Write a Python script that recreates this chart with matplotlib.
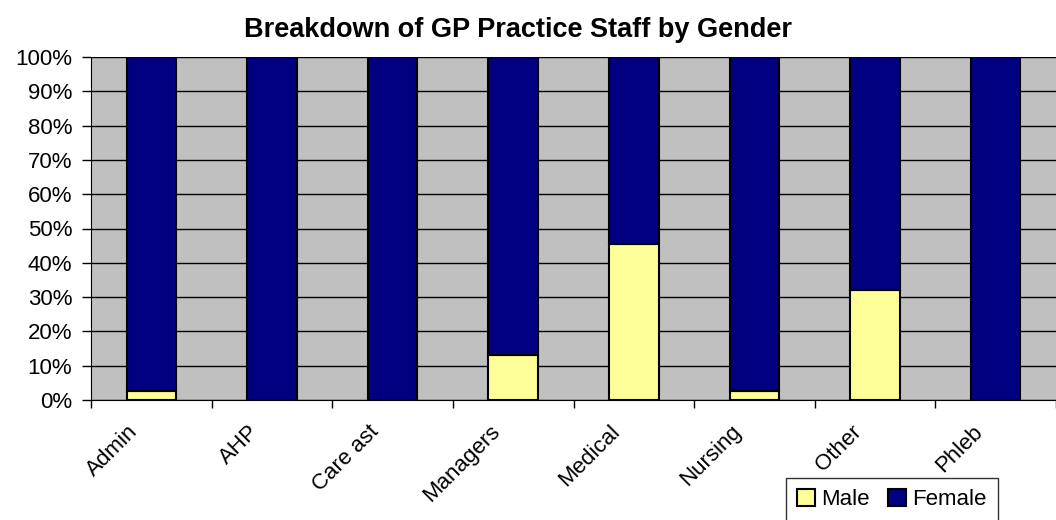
import matplotlib
matplotlib.use("Agg")
import matplotlib.pyplot as plt
import matplotlib.transforms as mtransforms
import numpy as np

categories = ["Admin", "AHP", "Care ast", "Managers", "Medical", "Nursing", "Other", "Phleb"]
male = [2.6, 0.0, 0.0, 13.0, 45.5, 2.5, 32.0, 0.0]
female = [100 - m for m in male]
title = "Breakdown of GP Practice Staff by Gender"

plt.rcParams['font.family'] = ['Liberation Sans', 'DejaVu Sans']

fig = plt.figure(figsize=(10.56, 5.2), dpi=100)
ax = fig.add_axes([91/1056, 1 - 400/520, (1056 - 91)/1056, (400 - 57)/520])
ax.set_facecolor("#C0C0C0")

x = np.arange(len(categories))
w = 0.41
b1 = ax.bar(x, male, w, color="#FFFF99", edgecolor="black", linewidth=1.5, label="Male", zorder=3)
b2 = ax.bar(x, female, w, bottom=male, color="#000080", edgecolor="black", linewidth=1.5, label="Female", zorder=3)

ax.set_xlim(-0.5, len(categories) - 0.5)
ax.set_ylim(0, 100)
ax.set_yticks(np.arange(0, 101, 10))
ax.set_yticklabels([f"{v}%" for v in range(0, 101, 10)], fontsize=16)
ax.yaxis.grid(True, color="black", linewidth=1.0, zorder=1)
ax.set_axisbelow(True)

ax.set_xticks(np.arange(-0.5, len(categories), 1.0), minor=False)
ax.set_xticklabels([])
ax.set_xticks(x, minor=True)
ax.set_xticklabels(categories, minor=True, rotation=45, ha="right", rotation_mode="anchor", fontsize=16)
ax.tick_params(axis="x", which="minor", length=0, pad=10)
ax.tick_params(axis="x", which="major", length=6, color="black", width=1)
ax.tick_params(axis="y", length=6.5, color="black", width=1, pad=7)
offset = mtransforms.ScaledTranslation(-24/100, -7/100, fig.dpi_scale_trans)
for lbl in ax.get_xticklabels(minor=True):
    lbl.set_transform(lbl.get_transform() + offset)

for s in ["top", "right"]:
    ax.spines[s].set_visible(False)
ax.spines["left"].set_color("black")
ax.spines["bottom"].set_color("black")

fig.text(518/1056, 1 - 30/520, title, ha="center", va="center", fontsize=19.5, fontweight="bold")

leg = fig.legend(handles=[b1, b2], labels=["Male", "Female"], loc="upper left",
                 bbox_to_anchor=(786/1056, 1 - 478/520), ncol=2, fontsize=16, frameon=True,
                 fancybox=False, edgecolor="black", handlelength=0.8, handleheight=0.8,
                 handletextpad=0.3, columnspacing=0.8, borderpad=0.5, borderaxespad=0)
leg.get_frame().set_linewidth(1.0)

fig.savefig("out.png", dpi=100)
